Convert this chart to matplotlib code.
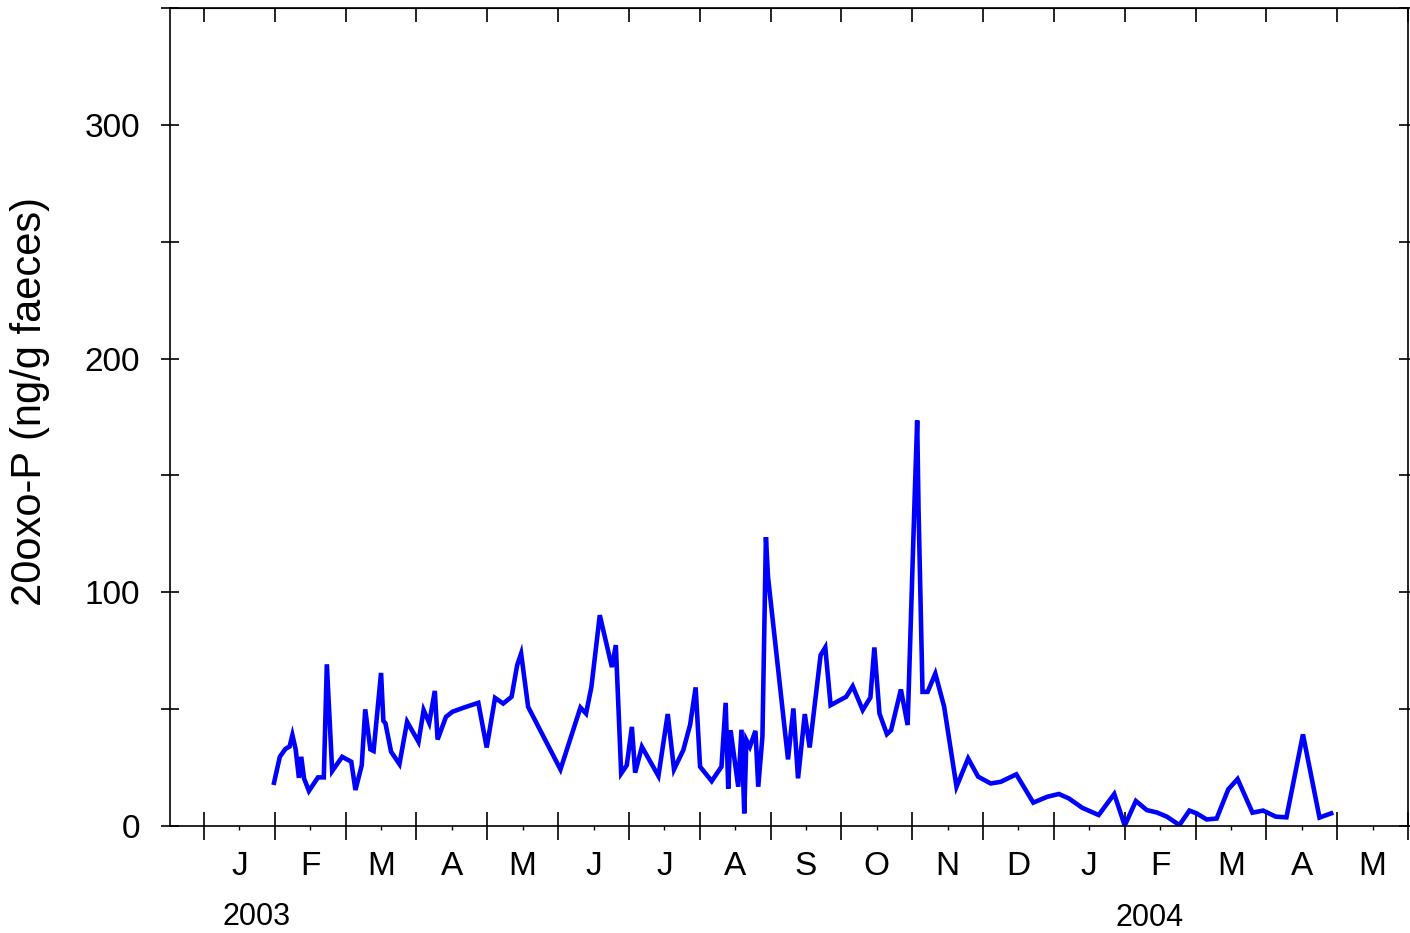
import numpy as np
import matplotlib
matplotlib.use("Agg")
import matplotlib.pyplot as plt

plt.rcParams['font.family'] = ['Liberation Sans', 'DejaVu Sans']

# Sampling day (days since 1 Jan 2003) and faecal 20oxo-P (ng/g)
dia = [30.1, 32.6, 35.0, 36.8, 38.0, 39.4, 40.8, 41.8, 43.0, 45.1,
       49.0, 51.5, 52.8, 55.1, 59.4, 63.3, 65.1, 67.8, 69.3, 71.5,
       72.9, 76.1, 77.1, 78.0, 80.4, 84.0, 87.3, 92.2, 94.4, 96.8,
       99.2, 100.4, 104.0, 106.8, 111.8, 117.9, 121.5, 125.1, 128.6, 132.2,
       134.6, 136.3, 139.3, 153.2, 161.8, 164.2, 166.5, 170.1, 175.3, 177.0,
       179.3, 181.7, 183.9, 185.3, 188.2, 195.3, 199.3, 202.0, 206.0, 208.9,
       211.3, 213.2, 218.2, 222.4, 224.2, 225.3, 226.3, 229.6, 231.0, 232.2,
       233.1, 234.6, 237.0, 238.2, 240.0, 241.5, 242.4, 251.0, 253.3, 255.3,
       258.2, 260.3, 265.0, 267.0, 269.3, 276.0, 278.8, 283.1, 286.4, 288.1,
       290.3, 293.5, 295.3, 299.5, 302.4, 305.4, 306.5, 307.1, 308.8, 311.0,
       314.3, 318.1, 323.4, 328.4, 332.7, 338.1, 342.4, 349.1, 356.4, 362.4,
       367.4, 371.7, 377.4, 384.5, 391.2, 395.7, 400.5, 405.2, 409.5, 413.8,
       419.2, 423.5, 426.6, 430.9, 435.2, 440.2, 444.2, 450.6, 455.2, 460.6,
       465.2, 472.3, 479.4, 484.4]
conc = [18.5, 29.6, 33.0, 34.0, 38.9, 32.8, 20.6, 29.6, 20.4, 15.0,
        20.8, 20.8, 69.2, 23.5, 29.6, 27.5, 15.4, 26.0, 49.9, 32.8,
        32.1, 65.5, 45.0, 43.9, 31.8, 26.5, 44.6, 36.0, 49.6, 44.1,
        57.8, 37.0, 46.7, 48.9, 50.7, 52.7, 33.6, 54.8, 52.4, 55.3,
        68.8, 73.8, 51.0, 24.2, 50.7, 48.1, 59.5, 90.2, 68.0, 77.4,
        22.5, 26.0, 42.4, 22.8, 33.9, 21.4, 47.9, 24.2, 32.5, 43.2,
        59.3, 25.4, 19.2, 25.4, 52.7, 16.0, 41.0, 16.8, 41.2, 5.4,
        36.8, 33.9, 40.7, 16.8, 38.2, 123.6, 106.5, 28.5, 50.3, 20.4,
        47.9, 33.6, 73.1, 76.4, 51.7, 55.3, 59.8, 49.6, 55.0, 76.4,
        48.1, 39.3, 41.0, 58.4, 43.2, 140.0, 173.5, 135.0, 57.4, 57.4,
        65.2, 51.0, 16.8, 28.9, 21.1, 18.2, 18.9, 22.1, 10.0, 12.5,
        13.7, 11.8, 7.8, 4.7, 13.7, 0.2, 10.7, 6.8, 5.8, 4.0,
        0.4, 6.6, 5.4, 2.8, 3.2, 15.7, 20.1, 5.7, 6.6, 4.0,
        3.7, 39.2, 3.6, 5.4]

meses = ['J', 'F', 'M', 'A', 'M', 'J', 'J', 'A', 'S', 'O', 'N', 'D',
         'J', 'F', 'M', 'A', 'M']
mes = 365.25 / 12  # month width in days

fig = plt.figure(figsize=(14.1, 9.33), dpi=100)
ax = fig.add_axes([170 / 1410, 107 / 933, 1238 / 1410, 818 / 933])

ax.plot(dia, conc, color='#0000FF', lw=3.3, solid_joinstyle='miter')

ax.set_xlim(-14.6, 515.7)
ax.set_ylim(0, 350)

# month boundaries as major ticks, letters centred on mid-month minor ticks
limites = [i * mes for i in range(18)]
centros = [(i + 0.5) * mes for i in range(len(meses))]
ax.set_xticks(limites)
ax.set_xticklabels([])
ax.set_xticks(centros, minor=True)
ax.set_xticklabels(meses, minor=True)
ax.tick_params(axis='x', which='major', direction='inout', length=20, width=1.2)
ax.tick_params(axis='x', which='minor', direction='out', length=3, width=1,
               pad=15, labelsize=24)

ax.set_yticks(np.arange(0, 351, 50))
ax.set_yticklabels(['0', '', '100', '', '200', '', '300', ''])
ax.tick_params(axis='y', direction='inout', length=13, width=1.2, right=True,
               labelsize=24, pad=15)

# top edge: inward month ticks only
topo = ax.secondary_xaxis('top')
topo.set_xticks(limites)
topo.set_xticklabels([])
topo.tick_params(direction='in', length=10, width=1.2)

for s in ax.spines.values():
    s.set_linewidth(1.2)

fig.text(30 / 1410, 1 - 401 / 933, '20oxo-P (ng/g faeces)', rotation=90,
         ha='center', va='center', fontsize=30)
fig.text(257 / 1410, 1 - 917 / 933, '2003', ha='center', va='center', fontsize=22)
fig.text(1150 / 1410, 1 - 918 / 933, '2004', ha='center', va='center', fontsize=22)

fig.savefig('out.png', dpi=100)
